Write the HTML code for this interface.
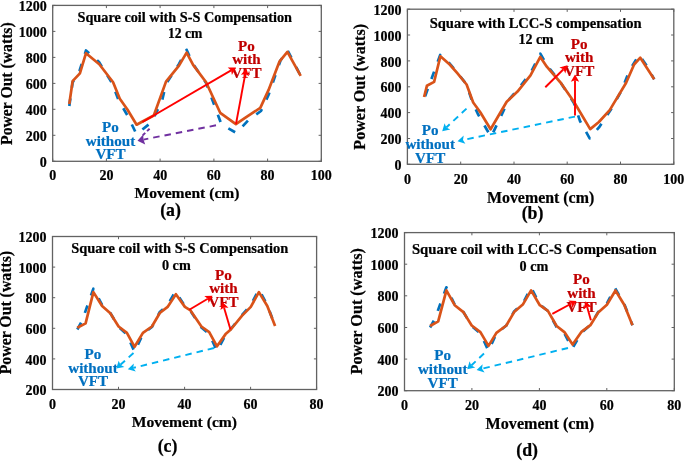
<!DOCTYPE html>
<html><head><meta charset="utf-8"><style>
html,body{margin:0;padding:0;background:#fff;}
body{width:685px;height:461px;position:relative;overflow:hidden;font-family:"Liberation Serif", serif;}
svg{will-change:transform;filter:blur(0.35px);}
</style></head><body>
<svg width="685" height="461" viewBox="0 0 685 461" style="position:absolute;left:0;top:0">
<rect width="685" height="461" fill="#fff"/>
<g font-family='"Liberation Serif", serif' font-weight="bold" stroke-width="0.22">
<rect x="52.7" y="5.4" width="268.6" height="155.9" fill="none" stroke="#626262" stroke-width="1.3"/>
<line x1="52.7" y1="161.3" x2="52.7" y2="158.60000000000002" stroke="#626262" stroke-width="1"/>
<line x1="52.7" y1="5.4" x2="52.7" y2="8.100000000000001" stroke="#626262" stroke-width="1"/>
<text x="52.70" y="179.70" font-size="14" fill="#000" stroke="#000" text-anchor="middle" >0</text>
<line x1="106.4" y1="161.3" x2="106.4" y2="158.60000000000002" stroke="#626262" stroke-width="1"/>
<line x1="106.4" y1="5.4" x2="106.4" y2="8.100000000000001" stroke="#626262" stroke-width="1"/>
<text x="106.42" y="179.70" font-size="14" fill="#000" stroke="#000" text-anchor="middle" >20</text>
<line x1="160.1" y1="161.3" x2="160.1" y2="158.60000000000002" stroke="#626262" stroke-width="1"/>
<line x1="160.1" y1="5.4" x2="160.1" y2="8.100000000000001" stroke="#626262" stroke-width="1"/>
<text x="160.14" y="179.70" font-size="14" fill="#000" stroke="#000" text-anchor="middle" >40</text>
<line x1="213.9" y1="161.3" x2="213.9" y2="158.60000000000002" stroke="#626262" stroke-width="1"/>
<line x1="213.9" y1="5.4" x2="213.9" y2="8.100000000000001" stroke="#626262" stroke-width="1"/>
<text x="213.86" y="179.70" font-size="14" fill="#000" stroke="#000" text-anchor="middle" >60</text>
<line x1="267.6" y1="161.3" x2="267.6" y2="158.60000000000002" stroke="#626262" stroke-width="1"/>
<line x1="267.6" y1="5.4" x2="267.6" y2="8.100000000000001" stroke="#626262" stroke-width="1"/>
<text x="267.58" y="179.70" font-size="14" fill="#000" stroke="#000" text-anchor="middle" >80</text>
<line x1="321.3" y1="161.3" x2="321.3" y2="158.60000000000002" stroke="#626262" stroke-width="1"/>
<line x1="321.3" y1="5.4" x2="321.3" y2="8.100000000000001" stroke="#626262" stroke-width="1"/>
<text x="321.30" y="179.70" font-size="14" fill="#000" stroke="#000" text-anchor="middle" >100</text>
<line x1="52.7" y1="161.3" x2="55.400000000000006" y2="161.3" stroke="#626262" stroke-width="1"/>
<line x1="321.3" y1="161.3" x2="318.6" y2="161.3" stroke="#626262" stroke-width="1"/>
<text x="46.70" y="166.90" font-size="14" fill="#000" stroke="#000" text-anchor="end" >0</text>
<line x1="52.7" y1="135.3" x2="55.400000000000006" y2="135.3" stroke="#626262" stroke-width="1"/>
<line x1="321.3" y1="135.3" x2="318.6" y2="135.3" stroke="#626262" stroke-width="1"/>
<text x="46.70" y="140.92" font-size="14" fill="#000" stroke="#000" text-anchor="end" >200</text>
<line x1="52.7" y1="109.3" x2="55.400000000000006" y2="109.3" stroke="#626262" stroke-width="1"/>
<line x1="321.3" y1="109.3" x2="318.6" y2="109.3" stroke="#626262" stroke-width="1"/>
<text x="46.70" y="114.93" font-size="14" fill="#000" stroke="#000" text-anchor="end" >400</text>
<line x1="52.7" y1="83.4" x2="55.400000000000006" y2="83.4" stroke="#626262" stroke-width="1"/>
<line x1="321.3" y1="83.4" x2="318.6" y2="83.4" stroke="#626262" stroke-width="1"/>
<text x="46.70" y="88.95" font-size="14" fill="#000" stroke="#000" text-anchor="end" >600</text>
<line x1="52.7" y1="57.4" x2="55.400000000000006" y2="57.4" stroke="#626262" stroke-width="1"/>
<line x1="321.3" y1="57.4" x2="318.6" y2="57.4" stroke="#626262" stroke-width="1"/>
<text x="46.70" y="62.97" font-size="14" fill="#000" stroke="#000" text-anchor="end" >800</text>
<line x1="52.7" y1="31.4" x2="55.400000000000006" y2="31.4" stroke="#626262" stroke-width="1"/>
<line x1="321.3" y1="31.4" x2="318.6" y2="31.4" stroke="#626262" stroke-width="1"/>
<text x="46.70" y="36.98" font-size="14" fill="#000" stroke="#000" text-anchor="end" >1000</text>
<line x1="52.7" y1="5.4" x2="55.400000000000006" y2="5.4" stroke="#626262" stroke-width="1"/>
<line x1="321.3" y1="5.4" x2="318.6" y2="5.4" stroke="#626262" stroke-width="1"/>
<text x="46.70" y="11.00" font-size="14" fill="#000" stroke="#000" text-anchor="end" >1200</text>
<rect x="407.4" y="9.2" width="266.4" height="155.1" fill="none" stroke="#626262" stroke-width="1.3"/>
<line x1="407.4" y1="164.3" x2="407.4" y2="161.60000000000002" stroke="#626262" stroke-width="1"/>
<line x1="407.4" y1="9.2" x2="407.4" y2="11.899999999999999" stroke="#626262" stroke-width="1"/>
<text x="407.40" y="183.70" font-size="14" fill="#000" stroke="#000" text-anchor="middle" >0</text>
<line x1="460.7" y1="164.3" x2="460.7" y2="161.60000000000002" stroke="#626262" stroke-width="1"/>
<line x1="460.7" y1="9.2" x2="460.7" y2="11.899999999999999" stroke="#626262" stroke-width="1"/>
<text x="460.68" y="183.70" font-size="14" fill="#000" stroke="#000" text-anchor="middle" >20</text>
<line x1="514.0" y1="164.3" x2="514.0" y2="161.60000000000002" stroke="#626262" stroke-width="1"/>
<line x1="514.0" y1="9.2" x2="514.0" y2="11.899999999999999" stroke="#626262" stroke-width="1"/>
<text x="513.96" y="183.70" font-size="14" fill="#000" stroke="#000" text-anchor="middle" >40</text>
<line x1="567.2" y1="164.3" x2="567.2" y2="161.60000000000002" stroke="#626262" stroke-width="1"/>
<line x1="567.2" y1="9.2" x2="567.2" y2="11.899999999999999" stroke="#626262" stroke-width="1"/>
<text x="567.24" y="183.70" font-size="14" fill="#000" stroke="#000" text-anchor="middle" >60</text>
<line x1="620.5" y1="164.3" x2="620.5" y2="161.60000000000002" stroke="#626262" stroke-width="1"/>
<line x1="620.5" y1="9.2" x2="620.5" y2="11.899999999999999" stroke="#626262" stroke-width="1"/>
<text x="620.52" y="183.70" font-size="14" fill="#000" stroke="#000" text-anchor="middle" >80</text>
<line x1="673.8" y1="164.3" x2="673.8" y2="161.60000000000002" stroke="#626262" stroke-width="1"/>
<line x1="673.8" y1="9.2" x2="673.8" y2="11.899999999999999" stroke="#626262" stroke-width="1"/>
<text x="673.80" y="183.70" font-size="14" fill="#000" stroke="#000" text-anchor="middle" >100</text>
<line x1="407.4" y1="164.3" x2="410.09999999999997" y2="164.3" stroke="#626262" stroke-width="1"/>
<line x1="673.8" y1="164.3" x2="671.0999999999999" y2="164.3" stroke="#626262" stroke-width="1"/>
<text x="401.40" y="169.90" font-size="14" fill="#000" stroke="#000" text-anchor="end" >0</text>
<line x1="407.4" y1="138.5" x2="410.09999999999997" y2="138.5" stroke="#626262" stroke-width="1"/>
<line x1="673.8" y1="138.5" x2="671.0999999999999" y2="138.5" stroke="#626262" stroke-width="1"/>
<text x="401.40" y="144.05" font-size="14" fill="#000" stroke="#000" text-anchor="end" >200</text>
<line x1="407.4" y1="112.6" x2="410.09999999999997" y2="112.6" stroke="#626262" stroke-width="1"/>
<line x1="673.8" y1="112.6" x2="671.0999999999999" y2="112.6" stroke="#626262" stroke-width="1"/>
<text x="401.40" y="118.20" font-size="14" fill="#000" stroke="#000" text-anchor="end" >400</text>
<line x1="407.4" y1="86.8" x2="410.09999999999997" y2="86.8" stroke="#626262" stroke-width="1"/>
<line x1="673.8" y1="86.8" x2="671.0999999999999" y2="86.8" stroke="#626262" stroke-width="1"/>
<text x="401.40" y="92.35" font-size="14" fill="#000" stroke="#000" text-anchor="end" >600</text>
<line x1="407.4" y1="60.9" x2="410.09999999999997" y2="60.9" stroke="#626262" stroke-width="1"/>
<line x1="673.8" y1="60.9" x2="671.0999999999999" y2="60.9" stroke="#626262" stroke-width="1"/>
<text x="401.40" y="66.50" font-size="14" fill="#000" stroke="#000" text-anchor="end" >800</text>
<line x1="407.4" y1="35.0" x2="410.09999999999997" y2="35.0" stroke="#626262" stroke-width="1"/>
<line x1="673.8" y1="35.0" x2="671.0999999999999" y2="35.0" stroke="#626262" stroke-width="1"/>
<text x="401.40" y="40.65" font-size="14" fill="#000" stroke="#000" text-anchor="end" >1000</text>
<line x1="407.4" y1="9.2" x2="410.09999999999997" y2="9.2" stroke="#626262" stroke-width="1"/>
<line x1="673.8" y1="9.2" x2="671.0999999999999" y2="9.2" stroke="#626262" stroke-width="1"/>
<text x="401.40" y="14.80" font-size="14" fill="#000" stroke="#000" text-anchor="end" >1200</text>
<rect x="52.5" y="236.5" width="264.1" height="153.0" fill="none" stroke="#626262" stroke-width="1.3"/>
<line x1="52.5" y1="389.5" x2="52.5" y2="386.8" stroke="#626262" stroke-width="1"/>
<line x1="52.5" y1="236.5" x2="52.5" y2="239.2" stroke="#626262" stroke-width="1"/>
<text x="52.50" y="408.50" font-size="14" fill="#000" stroke="#000" text-anchor="middle" >0</text>
<line x1="118.5" y1="389.5" x2="118.5" y2="386.8" stroke="#626262" stroke-width="1"/>
<line x1="118.5" y1="236.5" x2="118.5" y2="239.2" stroke="#626262" stroke-width="1"/>
<text x="118.53" y="408.50" font-size="14" fill="#000" stroke="#000" text-anchor="middle" >20</text>
<line x1="184.6" y1="389.5" x2="184.6" y2="386.8" stroke="#626262" stroke-width="1"/>
<line x1="184.6" y1="236.5" x2="184.6" y2="239.2" stroke="#626262" stroke-width="1"/>
<text x="184.55" y="408.50" font-size="14" fill="#000" stroke="#000" text-anchor="middle" >40</text>
<line x1="250.6" y1="389.5" x2="250.6" y2="386.8" stroke="#626262" stroke-width="1"/>
<line x1="250.6" y1="236.5" x2="250.6" y2="239.2" stroke="#626262" stroke-width="1"/>
<text x="250.58" y="408.50" font-size="14" fill="#000" stroke="#000" text-anchor="middle" >60</text>
<line x1="316.6" y1="389.5" x2="316.6" y2="386.8" stroke="#626262" stroke-width="1"/>
<line x1="316.6" y1="236.5" x2="316.6" y2="239.2" stroke="#626262" stroke-width="1"/>
<text x="316.60" y="408.50" font-size="14" fill="#000" stroke="#000" text-anchor="middle" >80</text>
<line x1="52.5" y1="389.5" x2="55.2" y2="389.5" stroke="#626262" stroke-width="1"/>
<line x1="316.6" y1="389.5" x2="313.90000000000003" y2="389.5" stroke="#626262" stroke-width="1"/>
<text x="46.50" y="395.10" font-size="14" fill="#000" stroke="#000" text-anchor="end" >200</text>
<line x1="52.5" y1="358.9" x2="55.2" y2="358.9" stroke="#626262" stroke-width="1"/>
<line x1="316.6" y1="358.9" x2="313.90000000000003" y2="358.9" stroke="#626262" stroke-width="1"/>
<text x="46.50" y="364.50" font-size="14" fill="#000" stroke="#000" text-anchor="end" >400</text>
<line x1="52.5" y1="328.3" x2="55.2" y2="328.3" stroke="#626262" stroke-width="1"/>
<line x1="316.6" y1="328.3" x2="313.90000000000003" y2="328.3" stroke="#626262" stroke-width="1"/>
<text x="46.50" y="333.90" font-size="14" fill="#000" stroke="#000" text-anchor="end" >600</text>
<line x1="52.5" y1="297.7" x2="55.2" y2="297.7" stroke="#626262" stroke-width="1"/>
<line x1="316.6" y1="297.7" x2="313.90000000000003" y2="297.7" stroke="#626262" stroke-width="1"/>
<text x="46.50" y="303.30" font-size="14" fill="#000" stroke="#000" text-anchor="end" >800</text>
<line x1="52.5" y1="267.1" x2="55.2" y2="267.1" stroke="#626262" stroke-width="1"/>
<line x1="316.6" y1="267.1" x2="313.90000000000003" y2="267.1" stroke="#626262" stroke-width="1"/>
<text x="46.50" y="272.70" font-size="14" fill="#000" stroke="#000" text-anchor="end" >1000</text>
<line x1="52.5" y1="236.5" x2="55.2" y2="236.5" stroke="#626262" stroke-width="1"/>
<line x1="316.6" y1="236.5" x2="313.90000000000003" y2="236.5" stroke="#626262" stroke-width="1"/>
<text x="46.50" y="242.10" font-size="14" fill="#000" stroke="#000" text-anchor="end" >1200</text>
<rect x="404.5" y="232.6" width="269.8" height="158.1" fill="none" stroke="#626262" stroke-width="1.3"/>
<line x1="404.5" y1="390.7" x2="404.5" y2="388.0" stroke="#626262" stroke-width="1"/>
<line x1="404.5" y1="232.6" x2="404.5" y2="235.29999999999998" stroke="#626262" stroke-width="1"/>
<text x="404.50" y="409.50" font-size="14" fill="#000" stroke="#000" text-anchor="middle" >0</text>
<line x1="471.9" y1="390.7" x2="471.9" y2="388.0" stroke="#626262" stroke-width="1"/>
<line x1="471.9" y1="232.6" x2="471.9" y2="235.29999999999998" stroke="#626262" stroke-width="1"/>
<text x="471.95" y="409.50" font-size="14" fill="#000" stroke="#000" text-anchor="middle" >20</text>
<line x1="539.4" y1="390.7" x2="539.4" y2="388.0" stroke="#626262" stroke-width="1"/>
<line x1="539.4" y1="232.6" x2="539.4" y2="235.29999999999998" stroke="#626262" stroke-width="1"/>
<text x="539.40" y="409.50" font-size="14" fill="#000" stroke="#000" text-anchor="middle" >40</text>
<line x1="606.8" y1="390.7" x2="606.8" y2="388.0" stroke="#626262" stroke-width="1"/>
<line x1="606.8" y1="232.6" x2="606.8" y2="235.29999999999998" stroke="#626262" stroke-width="1"/>
<text x="606.85" y="409.50" font-size="14" fill="#000" stroke="#000" text-anchor="middle" >60</text>
<line x1="674.3" y1="390.7" x2="674.3" y2="388.0" stroke="#626262" stroke-width="1"/>
<line x1="674.3" y1="232.6" x2="674.3" y2="235.29999999999998" stroke="#626262" stroke-width="1"/>
<text x="674.30" y="409.50" font-size="14" fill="#000" stroke="#000" text-anchor="middle" >80</text>
<line x1="404.5" y1="390.7" x2="407.2" y2="390.7" stroke="#626262" stroke-width="1"/>
<line x1="674.3" y1="390.7" x2="671.5999999999999" y2="390.7" stroke="#626262" stroke-width="1"/>
<text x="398.50" y="396.30" font-size="14" fill="#000" stroke="#000" text-anchor="end" >200</text>
<line x1="404.5" y1="359.1" x2="407.2" y2="359.1" stroke="#626262" stroke-width="1"/>
<line x1="674.3" y1="359.1" x2="671.5999999999999" y2="359.1" stroke="#626262" stroke-width="1"/>
<text x="398.50" y="364.68" font-size="14" fill="#000" stroke="#000" text-anchor="end" >400</text>
<line x1="404.5" y1="327.5" x2="407.2" y2="327.5" stroke="#626262" stroke-width="1"/>
<line x1="674.3" y1="327.5" x2="671.5999999999999" y2="327.5" stroke="#626262" stroke-width="1"/>
<text x="398.50" y="333.06" font-size="14" fill="#000" stroke="#000" text-anchor="end" >600</text>
<line x1="404.5" y1="295.8" x2="407.2" y2="295.8" stroke="#626262" stroke-width="1"/>
<line x1="674.3" y1="295.8" x2="671.5999999999999" y2="295.8" stroke="#626262" stroke-width="1"/>
<text x="398.50" y="301.44" font-size="14" fill="#000" stroke="#000" text-anchor="end" >800</text>
<line x1="404.5" y1="264.2" x2="407.2" y2="264.2" stroke="#626262" stroke-width="1"/>
<line x1="674.3" y1="264.2" x2="671.5999999999999" y2="264.2" stroke="#626262" stroke-width="1"/>
<text x="398.50" y="269.82" font-size="14" fill="#000" stroke="#000" text-anchor="end" >1000</text>
<line x1="404.5" y1="232.6" x2="407.2" y2="232.6" stroke="#626262" stroke-width="1"/>
<line x1="674.3" y1="232.6" x2="671.5999999999999" y2="232.6" stroke="#626262" stroke-width="1"/>
<text x="398.50" y="238.20" font-size="14" fill="#000" stroke="#000" text-anchor="end" >1200</text>
<polyline points="69.3,106.0 72.6,82.5 79.5,71.0 86.0,50.5 99.0,62.0 112.0,83.0 118.7,100.5 127.5,115.5 136.5,134.2 151.5,122.2 162.0,101.0 166.0,84.0 179.0,64.0 186.6,49.8 193.1,64.0 206.1,83.0 221.5,124.5 236.5,133.0 249.5,119.0 261.0,111.0 268.5,95.0 280.5,60.6 287.4,50.0 300.7,75.8" fill="none" stroke="#0072BD" stroke-width="2.7" stroke-linejoin="round" stroke-dasharray="7.8 10.55" stroke-dashoffset="0"/>
<polyline points="424.1,99.0 440.2,55.0 449.7,63.5 457.3,72.5 466.6,84.5 472.0,101.0 477.9,114.0 491.0,137.0 508.9,99.5 517.5,90.0 530.5,73.0 540.3,53.7 546.8,65.0 560.9,83.0 573.9,103.0 580.0,121.0 589.7,138.3 599.0,127.4 611.9,107.9 621.6,90.5 629.2,71.0 639.0,54.8 646.6,65.5 654.2,79.3" fill="none" stroke="#0072BD" stroke-width="2.7" stroke-linejoin="round" stroke-dasharray="7.8 10.55" stroke-dashoffset="-3"/>
<polyline points="77.3,329.5 82.0,321.0 93.4,288.7 102.1,305.0 110.3,313.0 118.6,327.0 126.9,334.5 134.6,352.0 142.9,334.0 151.9,327.0 159.8,312.0 167.6,305.0 175.4,291.5 184.9,306.0 190.5,311.0 201.4,327.5 209.2,334.0 217.0,351.0 225.6,335.0 230.8,329.0 242.1,315.0 250.8,305.0 258.9,289.5 267.3,305.0 275.1,326.0" fill="none" stroke="#0072BD" stroke-width="2.7" stroke-linejoin="round" stroke-dasharray="7.8 10.55" stroke-dashoffset="0"/>
<polyline points="430.1,327.5 435.0,318.5 446.4,287.3 454.7,304.5 463.4,312.0 471.7,326.0 480.4,333.5 488.5,350.8 496.4,333.5 506.3,325.5 514.1,311.5 522.8,303.5 531.1,287.5 539.8,304.5 547.9,311.0 556.6,327.0 564.4,333.5 572.3,348.5 581.7,332.5 590.4,325.0 598.2,312.0 606.9,303.5 615.0,288.0 624.2,304.0 632.5,325.2" fill="none" stroke="#0072BD" stroke-width="2.7" stroke-linejoin="round" stroke-dasharray="7.8 10.55" stroke-dashoffset="0"/>
<polyline points="69.3,104.0 72.6,81.2 79.9,73.4 86.0,53.2 99.3,64.2 113.1,82.3 119.8,98.7 127.4,109.5 136.6,124.7 142.5,121.5 153.8,115.5 166.0,81.6 179.0,65.6 186.6,52.6 193.1,64.9 206.1,82.3 220.2,112.8 235.9,124.2 246.2,117.1 260.3,107.9 268.6,89.9 279.4,61.7 287.4,51.9 300.7,75.8" fill="none" stroke="#D95319" stroke-width="2.7" stroke-linejoin="round" />
<polyline points="424.1,97.0 426.9,85.8 434.1,81.9 440.4,56.3 449.7,64.5 457.3,73.2 466.6,84.5 473.2,102.5 480.3,112.2 490.6,129.3 506.7,101.8 517.5,91.6 530.5,75.4 540.3,56.9 546.8,66.7 560.9,83.0 573.9,101.8 590.2,129.1 598.9,122.0 609.7,110.1 626.0,83.0 634.1,64.5 640.3,57.7 646.6,67.4 654.2,79.3" fill="none" stroke="#D95319" stroke-width="2.7" stroke-linejoin="round" />
<polyline points="77.3,327.7 85.6,323.4 93.4,292.1 102.1,306.0 110.3,313.3 118.6,326.5 126.9,332.9 134.6,346.8 142.9,332.9 151.9,326.5 159.8,313.0 167.6,306.9 175.9,294.2 184.9,306.9 190.5,310.4 201.4,326.5 209.2,332.1 217.0,346.3 225.6,334.1 230.8,329.5 242.1,315.6 250.8,306.9 258.9,292.1 267.3,306.0 275.1,326.0" fill="none" stroke="#D95319" stroke-width="2.7" stroke-linejoin="round" />
<polyline points="430.1,326.0 438.2,321.3 446.4,290.4 454.7,305.2 463.4,312.1 471.7,325.5 480.4,332.1 488.5,345.9 496.4,332.9 506.3,325.5 514.1,312.1 522.8,304.6 531.1,290.4 539.8,305.2 547.9,310.9 556.6,326.0 564.4,332.1 572.6,344.6 581.7,331.6 590.4,325.2 598.2,312.5 606.9,304.7 615.5,290.5 624.2,304.7 632.5,325.2" fill="none" stroke="#D95319" stroke-width="2.7" stroke-linejoin="round" />
<text x="246.40" y="50.50" font-size="15.1" fill="#C00000" stroke="#C00000" text-anchor="middle" >Po</text>
<text x="246.40" y="64.30" font-size="15.1" fill="#C00000" stroke="#C00000" text-anchor="middle" >with</text>
<text x="246.40" y="78.10" font-size="15.1" fill="#C00000" stroke="#C00000" text-anchor="middle" >VFT</text>
<text x="110.50" y="132.20" font-size="15.1" fill="#0070C0" stroke="#0070C0" text-anchor="middle" >Po</text>
<text x="110.50" y="145.80" font-size="15.1" fill="#0070C0" stroke="#0070C0" text-anchor="middle" >without</text>
<text x="110.50" y="159.40" font-size="15.1" fill="#0070C0" stroke="#0070C0" text-anchor="middle" >VFT</text>
<text x="579.20" y="48.50" font-size="15.1" fill="#C00000" stroke="#C00000" text-anchor="middle" >Po</text>
<text x="579.20" y="62.20" font-size="15.1" fill="#C00000" stroke="#C00000" text-anchor="middle" >with</text>
<text x="579.20" y="75.90" font-size="15.1" fill="#C00000" stroke="#C00000" text-anchor="middle" >VFT</text>
<text x="430.20" y="135.30" font-size="15.1" fill="#0070C0" stroke="#0070C0" text-anchor="middle" >Po</text>
<text x="430.20" y="149.00" font-size="15.1" fill="#0070C0" stroke="#0070C0" text-anchor="middle" >without</text>
<text x="430.20" y="162.70" font-size="15.1" fill="#0070C0" stroke="#0070C0" text-anchor="middle" >VFT</text>
<text x="223.40" y="279.90" font-size="15.1" fill="#C00000" stroke="#C00000" text-anchor="middle" >Po</text>
<text x="223.40" y="293.40" font-size="15.1" fill="#C00000" stroke="#C00000" text-anchor="middle" >with</text>
<text x="223.40" y="306.90" font-size="15.1" fill="#C00000" stroke="#C00000" text-anchor="middle" >VFT</text>
<text x="93.00" y="359.00" font-size="15.1" fill="#0070C0" stroke="#0070C0" text-anchor="middle" >Po</text>
<text x="93.00" y="372.60" font-size="15.1" fill="#0070C0" stroke="#0070C0" text-anchor="middle" >without</text>
<text x="93.00" y="386.20" font-size="15.1" fill="#0070C0" stroke="#0070C0" text-anchor="middle" >VFT</text>
<text x="581.50" y="284.40" font-size="15.1" fill="#C00000" stroke="#C00000" text-anchor="middle" >Po</text>
<text x="581.50" y="298.00" font-size="15.1" fill="#C00000" stroke="#C00000" text-anchor="middle" >with</text>
<text x="581.50" y="311.60" font-size="15.1" fill="#C00000" stroke="#C00000" text-anchor="middle" >VFT</text>
<text x="442.70" y="360.00" font-size="15.1" fill="#0070C0" stroke="#0070C0" text-anchor="middle" >Po</text>
<text x="442.70" y="373.80" font-size="15.1" fill="#0070C0" stroke="#0070C0" text-anchor="middle" >without</text>
<text x="442.70" y="387.60" font-size="15.1" fill="#0070C0" stroke="#0070C0" text-anchor="middle" >VFT</text>
<line x1="142.5" y1="122.0" x2="231.1" y2="70.4" stroke="#FF0000" stroke-width="1.9"/>
<polygon points="236.0,67.6 231.9,74.9 231.1,70.4 227.7,67.6" fill="#FF0000"/>
<line x1="236.0" y1="124.0" x2="245.3" y2="73.9" stroke="#FF0000" stroke-width="1.9"/>
<polygon points="246.3,68.4 249.1,76.2 245.3,73.9 240.9,74.7" fill="#FF0000"/>
<line x1="216.0" y1="125.3" x2="143.5" y2="139.6" stroke="#7030A0" stroke-width="1.9" stroke-dasharray="6.5 5"/>
<polygon points="137.5,140.8 143.2,134.4 143.5,139.6 145.2,144.6" fill="#7030A0"/>
<line x1="149.6" y1="128.7" x2="141.8" y2="136.2" stroke="#7030A0" stroke-width="1.9" stroke-dasharray="3.5 2.5"/>
<line x1="545.3" y1="87.3" x2="563.5" y2="69.3" stroke="#FF0000" stroke-width="1.9"/>
<polygon points="567.5,65.3 565.3,73.4 563.5,69.3 559.4,67.4" fill="#FF0000"/>
<line x1="575.0" y1="115.5" x2="575.0" y2="80.2" stroke="#FF0000" stroke-width="1.9"/>
<polygon points="575.0,74.6 579.2,81.8 575.0,80.2 570.8,81.8" fill="#FF0000"/>
<line x1="466.5" y1="108.6" x2="446.3" y2="127.5" stroke="#00B0F0" stroke-width="1.9" stroke-dasharray="6.5 5"/>
<polygon points="442.2,131.3 444.6,123.3 446.3,127.5 450.3,129.5" fill="#00B0F0"/>
<line x1="575.0" y1="116.6" x2="463.0" y2="140.0" stroke="#00B0F0" stroke-width="1.9" stroke-dasharray="6.5 5"/>
<polygon points="457.5,141.2 463.7,135.6 463.0,140.0 465.4,143.8" fill="#00B0F0"/>
<line x1="189.3" y1="309.8" x2="207.8" y2="298.7" stroke="#FF0000" stroke-width="1.9"/>
<polygon points="212.6,295.8 208.6,303.1 207.8,298.7 204.3,295.9" fill="#FF0000"/>
<line x1="230.4" y1="329.2" x2="224.0" y2="307.4" stroke="#FF0000" stroke-width="1.9"/>
<polygon points="222.4,302.0 228.5,307.7 224.0,307.4 220.4,310.1" fill="#FF0000"/>
<line x1="133.5" y1="353.0" x2="120.4" y2="364.8" stroke="#00B0F0" stroke-width="1.9" stroke-dasharray="6.5 5"/>
<polygon points="116.2,368.6 118.7,360.7 120.4,364.8 124.4,366.9" fill="#00B0F0"/>
<line x1="214.0" y1="348.0" x2="133.3" y2="367.9" stroke="#00B0F0" stroke-width="1.9" stroke-dasharray="6.5 5"/>
<polygon points="127.8,369.2 133.8,363.4 133.3,367.9 135.8,371.6" fill="#00B0F0"/>
<line x1="552.3" y1="313.8" x2="571.5" y2="303.5" stroke="#FF0000" stroke-width="1.9"/>
<polygon points="576.5,300.9 572.1,308.0 571.5,303.5 568.2,300.6" fill="#FF0000"/>
<line x1="590.9" y1="320.3" x2="587.1" y2="306.7" stroke="#FF0000" stroke-width="1.9"/>
<polygon points="585.6,301.3 591.6,307.1 587.1,306.7 583.5,309.4" fill="#FF0000"/>
<line x1="484.0" y1="353.5" x2="471.3" y2="365.5" stroke="#00B0F0" stroke-width="1.9" stroke-dasharray="6.5 5"/>
<polygon points="467.2,369.3 469.6,361.3 471.3,365.5 475.3,367.4" fill="#00B0F0"/>
<line x1="568.0" y1="348.0" x2="482.1" y2="368.7" stroke="#00B0F0" stroke-width="1.9" stroke-dasharray="6.5 5"/>
<polygon points="476.6,370.0 482.6,364.2 482.1,368.7 484.6,372.4" fill="#00B0F0"/>
<text x="184.75" y="21.60" font-size="14.28" fill="#000" stroke="#000" text-anchor="middle" >Square coil with S-S Compensation</text>
<text x="185.10" y="37.90" font-size="13.6" fill="#000" stroke="#000" text-anchor="middle" >12 cm</text>
<text x="535.65" y="27.75" font-size="14.56" fill="#000" stroke="#000" text-anchor="middle" >Square with LCC-S compensation</text>
<text x="536.10" y="44.20" font-size="14.0" fill="#000" stroke="#000" text-anchor="middle" >12 cm</text>
<text x="179.70" y="252.90" font-size="14.44" fill="#000" stroke="#000" text-anchor="middle" >Square coil with S-S Compensation</text>
<text x="176.35" y="269.70" font-size="14.2" fill="#000" stroke="#000" text-anchor="middle" >0 cm</text>
<text x="534.30" y="253.70" font-size="14.76" fill="#000" stroke="#000" text-anchor="middle" >Square coil with LCC-S Compensation</text>
<text x="533.90" y="271.00" font-size="14.2" fill="#000" stroke="#000" text-anchor="middle" >0 cm</text>
<text x="186.95" y="198.40" font-size="15.57" fill="#000" stroke="#000" text-anchor="middle" >Movement (cm)</text>
<text x="540.60" y="202.50" font-size="15.9" fill="#000" stroke="#000" text-anchor="middle" >Movement (cm)</text>
<text x="184.40" y="427.20" font-size="15.6" fill="#000" stroke="#000" text-anchor="middle" >Movement (cm)</text>
<text x="539.90" y="428.90" font-size="16.1" fill="#000" stroke="#000" text-anchor="middle" >Movement (cm)</text>
<text x="170.50" y="215.80" font-size="17.8" fill="#000" stroke="#000" text-anchor="middle" >(a)</text>
<text x="532.55" y="219.20" font-size="17.8" fill="#000" stroke="#000" text-anchor="middle" >(b)</text>
<text x="167.50" y="452.30" font-size="17.8" fill="#000" stroke="#000" text-anchor="middle" >(c)</text>
<text x="527.10" y="456.30" font-size="17.8" fill="#000" stroke="#000" text-anchor="middle" >(d)</text>
<text x="0" y="0" font-size="15.7" stroke="#000" text-anchor="middle" transform="translate(12.0,83.6) rotate(-90)">Power Out (watts)</text>
<text x="0" y="0" font-size="16.1" stroke="#000" text-anchor="middle" transform="translate(365.4,86.8) rotate(-90)">Power Out (watts)</text>
<text x="0" y="0" font-size="15.8" stroke="#000" text-anchor="middle" transform="translate(10.7,312.6) rotate(-90)">Power Out (watts)</text>
<text x="0" y="0" font-size="16.2" stroke="#000" text-anchor="middle" transform="translate(361.8,311.25) rotate(-90)">Power Out (watts)</text>
</g></svg>
</body></html>
